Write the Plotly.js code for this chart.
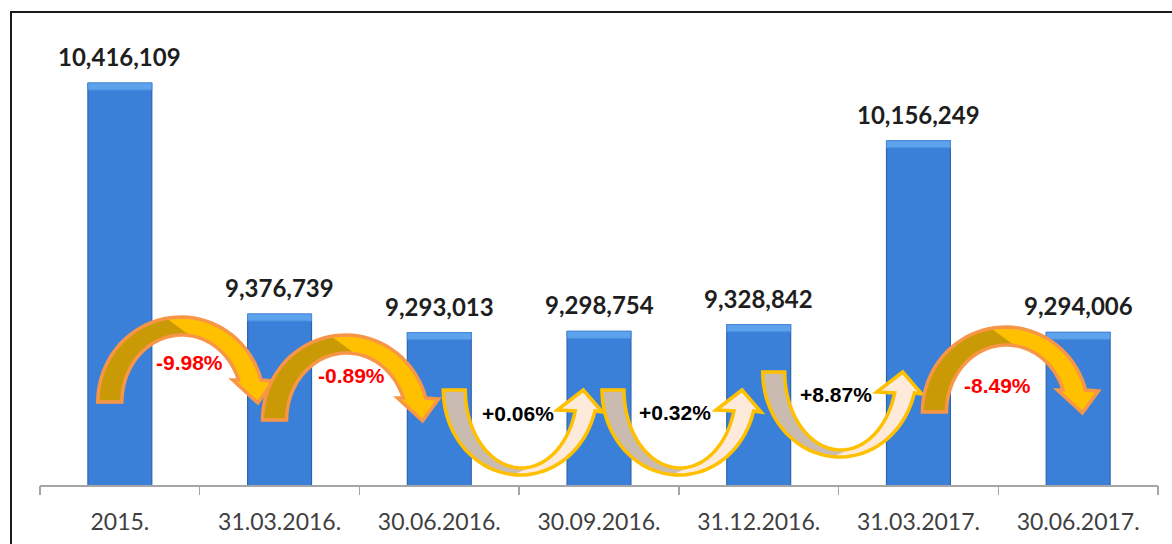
<!DOCTYPE html>
<html><head><meta charset="utf-8">
<script src="https://cdn.plot.ly/plotly-3.0.1.min.js"></script>
<style>
html,body{margin:0;padding:0;background:#fff;}
#wrap{position:relative;width:1172px;height:544px;overflow:hidden;}
#chart{width:1172px;height:544px;}
#frame{position:absolute;left:10px;top:11px;right:-5px;bottom:-5px;border-left:2px solid #1a1a1a;border-top:2px solid #1a1a1a;pointer-events:none;}
</style></head><body>
<div id="wrap"><div id="chart"></div><div id="frame"></div></div>
<script>
// ---- data ----
const categories = ['2015.', '31.03.2016.', '30.06.2016.', '30.09.2016.', '31.12.2016.', '31.03.2017.', '30.06.2017.'];
const values = [10416109, 9376739, 9293013, 9298754, 9328842, 10156249, 9294006];
const valueLabels = values.map(v => v.toLocaleString('en-US'));
const changes = values.slice(1).map((v, i) => (v / values[i] - 1) * 100);
const changeLabels = changes.map(c => (c >= 0 ? '+' : '') + c.toFixed(2) + '%');
const positions = categories.map((_, i) => i);
const boundaries = categories.concat(['']).map((_, i) => i - 0.5);

// ---- layout geometry ----
const WIDTH = 1172, HEIGHT = 544;
const M = {l: 40, r: 14, t: 12, b: 59};
const PW = WIDTH - M.l - M.r, PH = HEIGHT - M.t - M.b;
const xRange = [-0.5, categories.length - 0.5];
const yRange = [8607350, 10735560];
const unitsPerPx = (yRange[1] - yRange[0]) / PH;
const catPx = i => M.l + (i + 0.5) * PW / categories.length;
const paperX = px => (px - M.l) / PW;
const paperY = py => (M.t + PH - py) / PH;

// arrow placement (pixel offsets relative to category centres)
const arrowCfg = [
  {kind: 'down', from: 0, dx: -22, py: 402, lx: 92, ly: -40},
  {kind: 'down', from: 1, dx: -17, py: 420, lx: 89, ly: -45},
  {kind: 'up',   from: 2, dx: 4,   py: 390, lx: 75, ly: 23},
  {kind: 'up',   from: 3, dx: 3,   py: 390, lx: 73, ly: 22},
  {kind: 'up',   from: 4, dx: 4,   py: 372, lx: 73, ly: 22},
  {kind: 'down', from: 5, dx: 4,   py: 412, lx: 75, ly: -27}
];

const rad = d => d * Math.PI / 180;
function pathOf(pts) {
  return 'M' + pts.map(p => paperX(p[0]).toFixed(5) + ',' + paperY(p[1]).toFixed(5)).join('L') + 'Z';
}
function arcDown(cx, cy, rx, ry, a0, a1, n) {
  const pts = [];
  for (let k = 0; k <= n; k++) {
    const a = rad(a0 + (a1 - a0) * k / n);
    pts.push([cx + rx * Math.cos(a), cy - ry * Math.sin(a)]);
  }
  return pts;
}
function arcUp(cx, cy, rx, ry, a0, a1, n) {
  const pts = [];
  for (let k = 0; k <= n; k++) {
    const a = rad(a0 + (a1 - a0) * k / n);
    pts.push([cx + rx * Math.cos(a), cy + ry * Math.sin(a)]);
  }
  return pts;
}

const shapes = [];
const annotations = [];

arrowCfg.forEach((a, idx) => {
  const x0 = catPx(a.from) + a.dx;
  let full, part, main, dark, edge;
  if (a.kind === 'down') {
    const b = a.py;
    const oe = Math.asin(22 / 85) * 180 / Math.PI;
    const ie = Math.asin(22 / 67) * 180 / Math.PI;
    const outer = arcDown(x0 + 83, b, 83, 85, 180, oe, 40);
    const inner = arcDown(x0 + 84, b, 60, 67, ie, 180, 40);
    full = outer.concat([[x0 + 176, b - 21], [x0 + 160, b + 1], [x0 + 135, b - 22]], inner);
    part = arcDown(x0 + 83, b, 83, 85, 180, 100, 30).concat(arcDown(x0 + 84, b, 60, 67, 82, 180, 30));
    main = '#ffc000'; dark = '#c99a06'; edge = '#f79646';
  } else {
    const t = a.py;
    const oe = Math.asin(21 / 85) * 180 / Math.PI;
    const ie = Math.asin(21 / 78) * 180 / Math.PI;
    const outer = arcUp(x0 + 77, t, 77, 85, 180, oe, 40);
    const inner = arcUp(x0 + 78, t, 56, 78, ie, 180, 40);
    full = outer.concat([[x0 + 159, t + 22], [x0 + 140, t], [x0 + 114, t + 20]], inner);
    part = arcUp(x0 + 77, t, 77, 85, 180, 95, 30).concat(arcUp(x0 + 78, t, 56, 78, 80, 180, 30));
    main = '#fdeadb'; dark = '#c9bbb0'; edge = '#ffc000';
  }
  const p = pathOf(full);
  shapes.push({type: 'path', xref: 'paper', yref: 'paper', path: p, fillcolor: main, line: {width: 0}, layer: 'above'});
  shapes.push({type: 'path', xref: 'paper', yref: 'paper', path: pathOf(part), fillcolor: dark, line: {width: 0}, layer: 'above'});
  shapes.push({type: 'path', xref: 'paper', yref: 'paper', path: p, fillcolor: 'rgba(0,0,0,0)', line: {color: edge, width: 3.5}, layer: 'above'});

  const neg = changes[idx] < 0;
  annotations.push({
    xref: 'paper', yref: 'paper', x: paperX(x0 + a.lx), y: paperY(a.py + a.ly),
    text: changeLabels[idx], showarrow: false, xanchor: 'center', yanchor: 'middle',
    font: {family: 'Liberation Sans, Arial, sans-serif', size: 21, weight: 700, color: neg ? '#ff0000' : '#000000'}
  });
});

values.forEach((v, i) => {
  annotations.push({
    x: positions[i], y: v, xref: 'x', yref: 'y', text: valueLabels[i], showarrow: false,
    xanchor: 'center', yanchor: 'bottom', yshift: 10,
    font: {family: 'Lato, sans-serif', size: 24, weight: 700, color: '#1e1e1e'}
  });
});

const bevel = 7 * unitsPerPx;
const traces = [
  {
    type: 'bar', x: positions, y: values, hoverinfo: 'skip', width: 0.4,
    marker: {color: '#3a80d8', line: {color: '#2c63b0', width: 1.2}}
  },
  {
    type: 'bar', x: positions, y: values.map(() => bevel), base: values.map(v => v - bevel), hoverinfo: 'skip', width: 0.4,
    marker: {color: '#5ca2ec', line: {color: '#4b8fdc', width: 1}}
  },
  {
    type: 'scatter', x: [xRange[0]], y: [yRange[0]], xaxis: 'x2', mode: 'none', hoverinfo: 'skip', showlegend: false
  }
];

const layout = {
  width: WIDTH, height: HEIGHT,
  margin: M,
  paper_bgcolor: '#ffffff', plot_bgcolor: '#ffffff',
  showlegend: false,
  barmode: 'overlay',
  xaxis: {
    type: 'linear', range: xRange, showgrid: false, zeroline: false,
    showline: true, linecolor: '#a6a6a6', linewidth: 1.5,
    ticks: '', tickmode: 'array', tickvals: positions, ticktext: categories,
    ticklabelstandoff: 16,
    tickfont: {family: 'Lato, sans-serif', size: 23, color: '#404040'}
  },
  xaxis2: {
    type: 'linear', range: xRange, overlaying: 'x', anchor: 'y', side: 'bottom',
    showgrid: false, zeroline: false, showline: false, showticklabels: false,
    ticks: 'outside', tickmode: 'array', tickvals: boundaries, ticklen: 9, tickcolor: '#a6a6a6', tickwidth: 1.5
  },
  yaxis: {range: yRange, visible: false, showgrid: false, zeroline: false, fixedrange: true},
  shapes: shapes,
  annotations: annotations
};

Plotly.newPlot('chart', traces, layout, {displayModeBar: false, staticPlot: true});
</script>
</body></html>
